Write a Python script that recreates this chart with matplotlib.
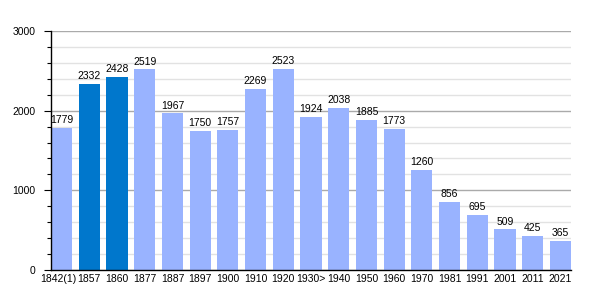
import matplotlib
matplotlib.use('Agg')
import matplotlib.pyplot as plt
import matplotlib.transforms as mtransforms
import numpy as np
from matplotlib.ticker import MultipleLocator

plt.rcParams['font.family'] = ['Liberation Sans', 'DejaVu Sans']

# data
years = ['1842(1)', '1857', '1860', '1877', '1887', '1897', '1900', '1910', '1920',
         '1930>', '1940', '1950', '1960', '1970', '1981', '1991', '2001', '2011', '2021']
population = [1779, 2332, 2428, 2519, 1967, 1750, 1757, 2269, 2523,
              1924, 2038, 1885, 1773, 1260, 856, 695, 509, 425, 365]
highlight = ['1857', '1860']  # darker bars

light = '#99b3ff'
dark = '#0077cc'
bar_w = 0.76
fs = 7.5

fig = plt.figure(figsize=(6, 3), dpi=100)
ax = fig.add_axes([51/600, 30/300, 520/600, 239/300])

x = np.arange(len(years))
colours = [dark if y in highlight else light for y in years]
ax.bar(x, population, width=bar_w, color=colours, zorder=3)

for xi, v in zip(x, population):
    ax.annotate(str(v), (xi, v), xytext=(0, 2), textcoords='offset points',
                ha='center', va='bottom', fontsize=fs, zorder=4)

ax.set_xlim(-bar_w/2, len(years) - 1 + bar_w/2)
ax.set_ylim(0, 3000)
ax.set_xticks(x)
ax.set_xticklabels(years, fontsize=fs)
ax.yaxis.set_major_locator(MultipleLocator(1000))
ax.yaxis.set_minor_locator(MultipleLocator(200))
ax.tick_params(axis='y', which='major', length=5, width=0.8, labelsize=fs, pad=6)
ax.tick_params(axis='y', which='minor', length=3, width=0.8)
ax.tick_params(axis='x', length=0, pad=3)

# nudge the first label left so it does not run into 1857
first = ax.get_xticklabels()[0]
first.set_transform(first.get_transform() +
                    mtransforms.ScaledTranslation(-3/100, 0, fig.dpi_scale_trans))

ax.grid(axis='y', which='major', color='#aaaaaa', linewidth=1, zorder=1)
ax.grid(axis='y', which='minor', color='#e2e2e2', linewidth=1, zorder=1)

for s in ['top', 'right']:
    ax.spines[s].set_visible(False)
ax.spines['left'].set_linewidth(1)
ax.spines['bottom'].set_linewidth(1)
ax.spines['left'].set_zorder(5)
ax.spines['bottom'].set_zorder(5)

fig.savefig('out.png', dpi=100)
